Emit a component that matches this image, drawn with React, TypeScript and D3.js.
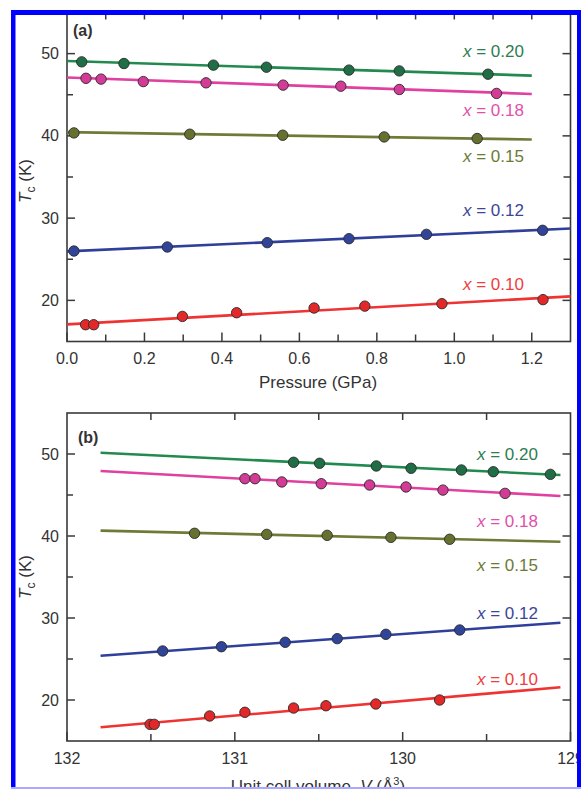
import React from "react";
import * as d3 from "d3";

// ---------- data ----------
const seriesNames = ["x = 0.20", "x = 0.18", "x = 0.15", "x = 0.12", "x = 0.10"];

// Panel (a): Tc vs pressure (GPa)
const pA20 = [0.038, 0.147, 0.378, 0.515, 0.728, 0.858, 1.087];
const tA20 = [49.0, 48.8, 48.6, 48.35, 48.0, 47.9, 47.5];
const pA18 = [0.049, 0.088, 0.197, 0.359, 0.558, 0.707, 0.858, 1.109];
const tA18 = [47.0, 46.9, 46.6, 46.45, 46.17, 46.04, 45.64, 45.16];
const pA15 = [0.018, 0.317, 0.557, 0.819, 1.059];
const tA15 = [40.36, 40.2, 40.08, 39.87, 39.68];
const pA12 = [0.018, 0.259, 0.517, 0.728, 0.928, 1.228];
const tA12 = [26.0, 26.49, 27.02, 27.5, 28.03, 28.52];
const pA10 = [0.048, 0.069, 0.298, 0.438, 0.638, 0.769, 0.968, 1.229];
const tA10 = [17.04, 17.04, 18.05, 18.5, 19.07, 19.3, 19.6, 20.09];

// Panel (a) linear fits: [start, end] pressure and Tc
const fitA_P = [[0, 1.2], [0, 1.2], [0, 1.2], [0, 1.3], [0, 1.3]];
const fitA_T = [[49.1, 47.33], [47.1, 45.1], [40.45, 39.56], [25.96, 28.73], [17.08, 20.49]];

// Panel (b): Tc vs unit cell volume (Å^3)
const vB20 = [130.65, 130.495, 130.157, 129.95, 129.65, 129.46, 129.12];
const tB20 = [48.99, 48.87, 48.54, 48.26, 48.05, 47.84, 47.52];
const vB18 = [130.94, 130.88, 130.72, 130.485, 130.197, 129.98, 129.76, 129.39];
const tB18 = [46.99, 46.99, 46.59, 46.38, 46.22, 45.98, 45.6, 45.2];
const vB15 = [131.24, 130.81, 130.45, 130.07, 129.72];
const tB15 = [40.33, 40.2, 40.08, 39.84, 39.6];
const vB12 = [131.43, 131.08, 130.7, 130.39, 130.1, 129.66];
const tB12 = [25.98, 26.5, 27.04, 27.48, 28.01, 28.54];
const vB10 = [131.505, 131.48, 131.15, 130.94, 130.65, 130.457, 130.16, 129.78];
const tB10 = [17.03, 17.03, 18.05, 18.5, 19.02, 19.3, 19.51, 20.0];

const fitB_V = [[131.8, 129.06], [131.8, 129.06], [131.8, 129.06], [131.8, 129.06], [131.8, 129.06]];
const fitB_T = [[50.16, 47.44], [47.93, 44.88], [40.65, 39.3], [25.4, 29.43], [16.67, 21.55]];

// label anchor values (Tc) for the series labels
const labelA_T = [50.3, 43.2, 37.5, 30.95, 22.0];
const labelB_T = [49.95, 41.85, 36.4, 30.6, 22.5];

const yDomain = [15, 55];
const yMajor = [20, 30, 40, 50];
const yMinor = [25, 35, 45];
const pDomain = [0, 1.3];
const pMajor = [0, 0.2, 0.4, 0.6, 0.8, 1.0, 1.2];
const pMinor = [0.1, 0.3, 0.5, 0.7, 0.9, 1.1];
const vDomain = [132, 129];
const vMajor = [132, 131, 130, 129];
const vMinor = [131.5, 130.5, 129.5];

// ---------- styles ----------
const lineColors = ["#22894f", "#e0409f", "#6f7a36", "#2f3f9a", "#ef3232"];
const markColors = ["#1f6e46", "#d43b96", "#67712f", "#30449a", "#e22828"];
const textColors = ["#2e7d50", "#e24fa9", "#6d7a37", "#3b4699", "#ef3d3d"];
const FONT = "'Liberation Sans', Arial, Helvetica, sans-serif";
const AXIS = "#3a3a3a";

type PanelProps = {
  top: number;
  bottom: number;
  xScale: d3.ScaleLinear<number, number>;
  xMajor: number[];
  xMinor: number[];
  xFmt: (v: number) => string;
  pts: [number[], number[]][];
  fitX: number[][];
  fitT: number[][];
  labelT: number[];
  labelX: number;
  tag: string;
  tagPos: [number, number];
  xTitle: React.ReactNode;
  xTitleY: number;
  yTitleY: number;
  drawTop: boolean;
};

const LEFT = 67;
const RIGHT = 570.5;

function Panel(p: PanelProps) {
  const y = d3.scaleLinear().domain(yDomain).range([p.bottom, p.top]);
  const x = p.xScale;
  const line = d3
    .line<[number, number]>()
    .x((d) => x(d[0]))
    .y((d) => y(d[1]));
  const allX = [...p.xMajor, ...p.xMinor].filter((v) => x(v) > LEFT + 1 && x(v) < RIGHT - 1);
  return (
    <g fontFamily={FONT}>
      {/* frame */}
      <rect x={LEFT} y={p.top} width={RIGHT - LEFT} height={p.bottom - p.top} fill="none" stroke={AXIS} strokeWidth={1.6} />
      {/* bottom ticks */}
      {p.xMajor.map((v) => (
        <line key={"bM" + v} x1={x(v)} x2={x(v)} y1={p.bottom} y2={p.bottom - 9} stroke={AXIS} strokeWidth={1.5} />
      ))}
      {p.xMinor.map((v) => (
        <line key={"bm" + v} x1={x(v)} x2={x(v)} y1={p.bottom} y2={p.bottom - 7} stroke={AXIS} strokeWidth={1.5} />
      ))}
      {/* top ticks */}
      {allX.map((v) => (
        <line key={"t" + v} x1={x(v)} x2={x(v)} y1={p.top} y2={p.top + 7} stroke={AXIS} strokeWidth={1.5} />
      ))}
      {/* y ticks left/right */}
      {yMajor.map((v) => (
        <g key={"yM" + v}>
          <line x1={LEFT} x2={LEFT + 8} y1={y(v)} y2={y(v)} stroke={AXIS} strokeWidth={1.5} />
          <line x1={RIGHT} x2={RIGHT - 8} y1={y(v)} y2={y(v)} stroke={AXIS} strokeWidth={1.5} />
          <text x={LEFT - 8} y={y(v)} dy="0.35em" textAnchor="end" fontSize={16} fill="#333">
            {v}
          </text>
        </g>
      ))}
      {yMinor.map((v) => (
        <g key={"ym" + v}>
          <line x1={LEFT} x2={LEFT + 6} y1={y(v)} y2={y(v)} stroke={AXIS} strokeWidth={1.5} />
          <line x1={RIGHT} x2={RIGHT - 7} y1={y(v)} y2={y(v)} stroke={AXIS} strokeWidth={1.5} />
        </g>
      ))}
      {/* x tick labels */}
      {p.xMajor.map((v) => (
        <text key={"xl" + v} x={x(v)} y={p.bottom + 17} dy="0.35em" textAnchor="middle" fontSize={16} fill="#333">
          {p.xFmt(v)}
        </text>
      ))}
      {/* fits */}
      {p.fitX.map((fx, i) => (
        <path
          key={"f" + i}
          d={line([[fx[0], p.fitT[i][0]], [fx[1], p.fitT[i][1]]]) || ""}
          stroke={lineColors[i]}
          strokeWidth={2.6}
          fill="none"
        />
      ))}
      {/* points */}
      {p.pts.map(([xs, ts], i) =>
        xs.map((xv, j) => (
          <circle key={"c" + i + "-" + j} cx={x(xv)} cy={y(ts[j])} r={5.2} fill={markColors[i]} stroke="#2a2a2a" strokeWidth={0.9} />
        ))
      )}
      {/* series labels */}
      {seriesNames.map((s, i) => (
        <text key={"s" + i} x={p.labelX} y={y(p.labelT[i])} dy="0.35em" fontSize={17} fill={textColors[i]}>
          <tspan fontStyle="italic">x</tspan>
          {s.slice(1)}
        </text>
      ))}
      {/* panel tag */}
      <text x={p.tagPos[0]} y={p.tagPos[1]} dy="0.35em" fontSize={16} fontWeight="bold" fill="#333">
        {p.tag}
      </text>
      {/* x title */}
      <text x={318} y={p.xTitleY} dy="0.35em" textAnchor="middle" fontSize={17} fill="#333">
        {p.xTitle}
      </text>
      {/* y title */}
      <text transform={`translate(31,${p.yTitleY}) rotate(-90)`} textAnchor="middle" fontSize={17} fill="#333">
        <tspan fontStyle="italic">T</tspan>
        <tspan fontSize={12} dy="4">c</tspan>
        <tspan dy="-4"> (K)</tspan>
      </text>
    </g>
  );
}

export default function App() {
  const xA = d3.scaleLinear().domain(pDomain).range([LEFT, RIGHT]);
  const xB = d3.scaleLinear().domain(vDomain).range([LEFT, RIGHT]);
  const ptsA: [number[], number[]][] = [
    [pA20, tA20],
    [pA18, tA18],
    [pA15, tA15],
    [pA12, tA12],
    [pA10, tA10],
  ];
  const ptsB: [number[], number[]][] = [
    [vB20, tB20],
    [vB18, tB18],
    [vB15, tB15],
    [vB12, tB12],
    [vB10, tB10],
  ];
  return (
    <svg width={581} height={789} style={{ position: "absolute", left: 0, top: 0, display: "block", background: "#fff" }}>
      <rect x={0} y={0} width={581} height={789} fill="#fff" />
      <Panel
        top={12.5}
        bottom={341.5}
        xScale={xA}
        xMajor={pMajor}
        xMinor={pMinor}
        xFmt={(v) => d3.format(".1f")(v)}
        pts={ptsA}
        fitX={fitA_P}
        fitT={fitA_T}
        labelT={labelA_T}
        labelX={463}
        tag="(a)"
        tagPos={[73, 30]}
        xTitle="Pressure (GPa)"
        xTitleY={382}
        yTitleY={181}
        drawTop={false}
      />
      <Panel
        top={413}
        bottom={741}
        xScale={xB}
        xMajor={vMajor}
        xMinor={vMinor}
        xFmt={(v) => String(v)}
        pts={ptsB}
        fitX={fitB_V}
        fitT={fitB_T}
        labelT={labelB_T}
        labelX={477}
        tag="(b)"
        tagPos={[78, 437]}
        xTitle={
          <>
            Unit cell volume, <tspan fontStyle="italic">V</tspan> (Å<tspan fontSize={11} dy="-7">3</tspan>
            <tspan dy="7">)</tspan>
          </>
        }
        xTitleY={786}
        yTitleY={577}
        drawTop={true}
      />
      {/* blue border */}
      <rect x={11} y={10} width={4.5} height={779} fill="#0000ff" />
      <rect x={11} y={10} width={570} height={5} fill="#0000ff" />
      <rect x={577} y={10} width={4} height={779} fill="#0000ff" />
      <rect x={11} y={787} width={570} height={2} fill="#a9a9ff" />
    </svg>
  );
}
